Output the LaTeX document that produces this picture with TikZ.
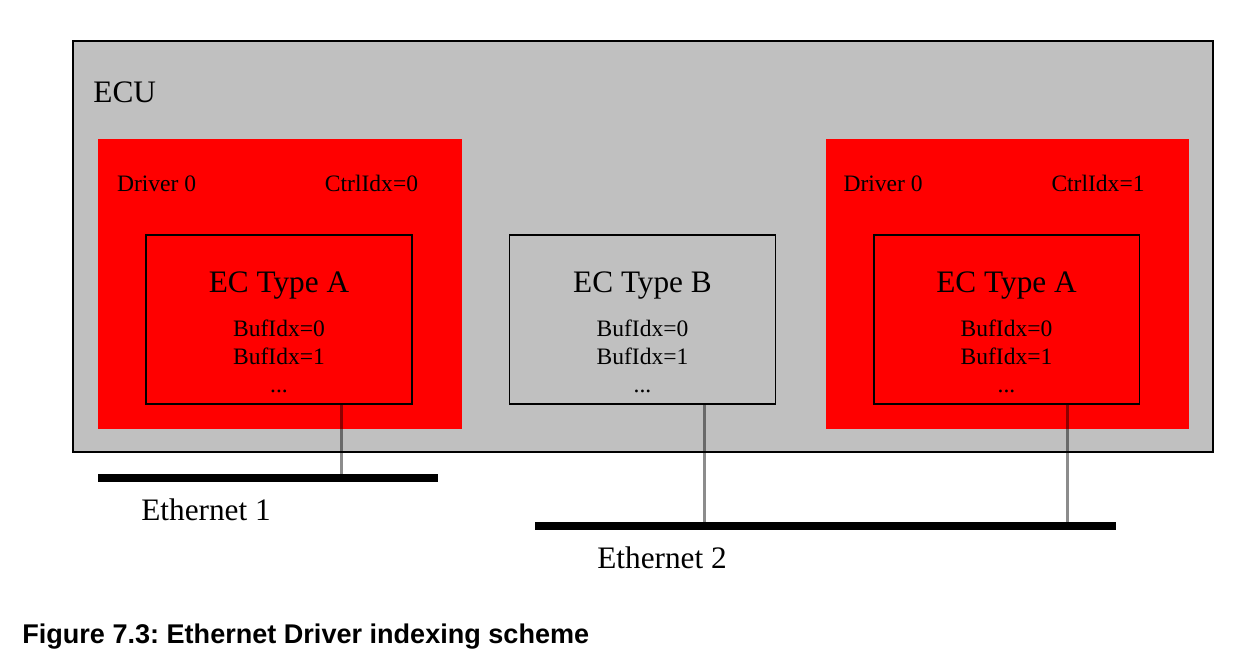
\documentclass[tikz,border=0pt]{standalone}
\usepackage{fontspec}
\setmainfont{Liberation Serif}
\newfontfamily\capfont{Liberation Sans}
\usetikzlibrary{positioning}
\frenchspacing

\definecolor{ecugray}{HTML}{C0C0C0}
\definecolor{drvred}{HTML}{FF0000}

\tikzset{
	ecubox/.style={draw=black, line width=1.1pt, fill=ecugray, inner sep=0pt,
		minimum width=22.8cm, minimum height=8.22cm},
	drvbox/.style={fill=drvred, inner sep=0pt, minimum width=7.28cm, minimum height=5.8cm},
	ecbox/.style={draw=black, line width=1.1pt, inner sep=0pt,
		minimum width=5.32cm, minimum height=3.38cm},
	busline/.style={fill=black, inner sep=0pt, minimum height=0.16cm},
	link/.style={draw=black, draw opacity=0.45, line width=1.7pt},
	bigtxt/.style={font=\fontsize{17.8}{21}\selectfont, inner sep=0pt},
	smalltxt/.style={font=\fontsize{13.4}{16}\selectfont, inner sep=0pt},
	captxt/.style={font=\capfont\bfseries\fontsize{15.4}{18}\selectfont, inner sep=0pt},
}

% name, centre x, fill, type letter
\newcommand\ecunit[4]{%
	\node[ecbox, fill=#3] (#1) at (#2, 319.5) {};
	\node[bigtxt, anchor=base] (#1-type) at ([yshift=-1.16cm]#1.north) {EC Type #4};
	\node[smalltxt, anchor=base] (#1-buf0) at ([yshift=-2.04cm]#1.north) {BufIdx=0};
	\node[smalltxt, anchor=base] (#1-buf1) at ([yshift=-2.6cm]#1.north) {BufIdx=1};
	\node[smalltxt, anchor=base] (#1-dots) at ([yshift=-3.16cm]#1.north) {...};
}

\begin{document}
\begin{tikzpicture}[x=0.02cm, y=-0.02cm]
	%%%%% FRAME %%%%%
	\useasboundingbox (0, 0) rectangle (1255, 667);
	
	\node[ecubox] (ecu) at (643, 246.5) {};
	\node[bigtxt, anchor=base west] (ecu-lbl) at ([xshift=0.42cm, yshift=-1.24cm]ecu.north west) {ECU};
	
	%%%%% DRIVERS %%%%%
	\node[drvbox] (drvL) at (280, 284) {};
	\node[smalltxt, anchor=base west] (drvL-name) at ([xshift=0.38cm, yshift=-1.06cm]drvL.north west) {Driver 0};
	\node[smalltxt, anchor=base west] (drvL-ctrl) at ([xshift=4.54cm, yshift=-1.06cm]drvL.north west) {CtrlIdx=0};
	
	\node[drvbox] (drvR) at (1007.5, 284) {};
	\node[smalltxt, anchor=base west] (drvR-name) at ([xshift=0.36cm, yshift=-1.06cm]drvR.north west) {Driver 0};
	\node[smalltxt, anchor=base west] (drvR-ctrl) at ([xshift=4.52cm, yshift=-1.06cm]drvR.north west) {CtrlIdx=1};
	
	%%%%% CONTROLLERS %%%%%
	\ecunit{ecA}{279}{drvred}{A}
	\ecunit{ecB}{642.5}{ecugray}{B}
	\ecunit{ecC}{1006.5}{drvred}{A}
	
	%%%%% BUSES %%%%%
	\node[busline, minimum width=6.8cm] (eth1) at (268, 478) {};
	\node[bigtxt, anchor=base west] (eth1-lbl) at (141, 520) {Ethernet 1};
	
	\node[busline, minimum width=11.62cm] (eth2) at (825.5, 526) {};
	\node[bigtxt, anchor=base west] (eth2-lbl) at (597, 568) {Ethernet 2};
	
	\draw[link] ([xshift=3.92cm]ecA.south west) -- ([xshift=3.92cm]ecA.south west |- eth1.north);
	\draw[link] ([xshift=3.92cm]ecB.south west) -- ([xshift=3.92cm]ecB.south west |- eth2.north);
	\draw[link] ([xshift=3.9cm]ecC.south west) -- ([xshift=3.9cm]ecC.south west |- eth2.north);
	
	%%%%% CAPTION %%%%%
	\node[captxt, anchor=base west] (cap) at (22, 643) {Figure 7.3: Ethernet Driver indexing scheme};
\end{tikzpicture}
\end{document}
